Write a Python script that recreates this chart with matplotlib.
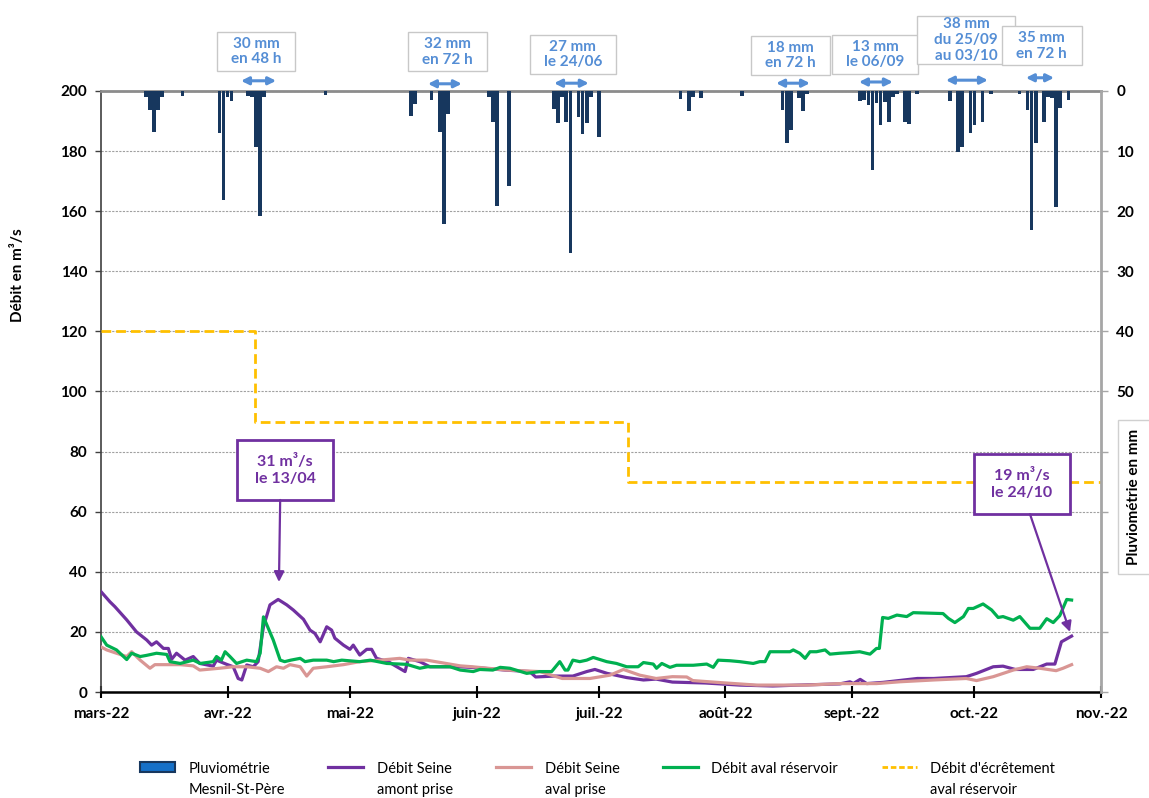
import numpy as np
import pandas as pd
import matplotlib
matplotlib.use("Agg")
import matplotlib.pyplot as plt
import matplotlib.transforms as mtransforms
from matplotlib.patches import Patch, Rectangle
from matplotlib.lines import Line2D

plt.rcParams['font.family'] = ['Lato', 'DejaVu Sans']

# Season starts 1 March 2022, x values are days since that date
start = pd.Timestamp('2022-03-01')
month_starts = pd.date_range('2022-03-01', '2022-11-01', freq='MS')
month_days = list((month_starts - start).days)
month_labels = ['mars-22', 'avr.-22', 'mai-22', 'juin-22', 'juil.-22',
                'août-22', 'sept.-22', 'oct.-22', 'nov.-22']

# Daily rainfall at Mesnil-St-Père (mm)
rain_days = [11, 12, 13, 14, 15, 20, 29, 30, 31, 32, 36, 37, 38, 39, 40, 55,
             76, 77, 81, 83, 84, 85, 95, 96, 97, 100, 111, 112, 113, 114, 115,
             117, 118, 119, 120, 122, 142, 144, 145, 147, 157, 167, 168, 169,
             171, 172, 173, 186, 187, 188, 189, 190, 191, 192, 193, 194, 195,
             197, 198, 200, 208, 210, 211, 213, 214, 216, 218, 225, 227, 228,
             229, 231, 232, 233, 234, 235, 237]
rain_mm = [1.0, 3.2, 6.8, 3.2, 1.0, 0.8, 7.0, 18.1, 1.0, 1.6, 0.8, 1.0, 9.3,
           20.8, 1.0, 0.7, 4.1, 2.2, 1.5, 6.8, 22.1, 3.9, 1.0, 5.2, 19.2, 15.8,
           3.0, 5.3, 1.0, 5.2, 26.9, 4.4, 7.2, 5.4, 1.0, 7.7, 1.3, 3.4, 1.0,
           1.1, 0.9, 3.2, 8.7, 6.5, 1.1, 3.4, 0.5, 1.7, 1.5, 2.4, 13.1, 2.0,
           5.7, 1.8, 5.1, 1.0, 0.5, 5.2, 5.5, 0.5, 1.7, 10.1, 9.3, 7.0, 5.7,
           5.2, 0.5, 0.5, 3.2, 23.1, 8.7, 5.2, 1.0, 1.1, 19.3, 2.9, 1.5]

# Débit Seine amont prise (m3/s)
amont_days = [0, 2.2, 3.4, 6.3, 8.7, 11.2, 12.4, 13.6, 15.3, 16.5, 17.3, 18.5,
              20.6, 22.6, 24.2, 27.5, 28.3, 30.8, 32.4, 33.6, 34.5, 35.7, 37.3,
              38.5, 39.8, 41.4, 43.4, 45.5, 47.1, 49.6, 51.2, 52.4, 53.7, 55.3,
              56.5, 57.3, 59.4, 61, 61.8, 63.4, 65.1, 66.3, 67.5, 70.4, 71.6,
              74.5, 75.3, 78.1, 80.6, 88, 93, 99, 105, 106.5, 111, 115.6, 119,
              121, 124, 128.8, 132.9, 136, 140, 148, 156.5, 164.6, 171, 181,
              183.5, 184.3, 186, 187.6, 191.6, 200, 204, 212, 214.5, 218.6,
              221, 224, 228.4, 231.7, 233.7, 235.3, 237.8]
amont_q = [33.4, 30.0, 28.4, 24.0, 20.0, 17.3, 15.6, 16.7, 14.5, 14.5, 10.9,
           12.9, 10.6, 11.8, 9.5, 8.6, 10.6, 9.2, 8.4, 4.5, 4.0, 9.0, 8.4, 10.1,
           21.7, 29.0, 30.8, 29.0, 27.3, 24.2, 20.6, 19.5, 16.7, 21.7, 20.6,
           17.9, 15.6, 14.2, 15.6, 12.3, 14.2, 14.2, 11.2, 10.1, 9.1, 6.8, 11.2,
           10.1, 8.4, 8.4, 8.0, 7.3, 6.8, 5.0, 5.3, 5.3, 6.8, 7.5, 6.2, 4.8,
           4.0, 4.3, 3.3, 3.0, 2.3, 2.0, 2.3, 2.7, 3.4, 2.8, 4.2, 2.8, 3.2, 4.5,
           4.5, 5.1, 6.2, 8.4, 8.6, 7.5, 7.5, 9.3, 9.3, 16.7, 18.6]

# Débit Seine aval prise (m3/s)
aval_days = [0, 1.4, 3.8, 6.3, 7.5, 9.6, 12, 13.2, 16, 19.4, 22.6, 24.2, 29,
             32.4, 35.7, 39, 41, 43, 44.7, 46.3, 48.8, 50.4, 52, 55.3, 59.4,
             63.4, 68.3, 73.2, 75.7, 79.8, 88, 91, 99.4, 107.5, 113, 119.8,
             124.7, 128, 132, 136, 140, 143.5, 145, 152, 160.6, 173, 181, 190,
             195.7, 204, 212, 214.5, 218.6, 223.5, 226.8, 230, 234, 235.7, 237.8]
aval_q = [15.0, 14.0, 12.9, 11.8, 13.4, 10.6, 7.9, 9.1, 9.1, 9.1, 8.7, 7.3,
          7.9, 8.4, 8.4, 7.9, 6.8, 8.4, 7.9, 9.1, 8.4, 5.3, 7.9, 8.4, 9.1,
          10.1, 10.6, 11.2, 10.6, 10.6, 8.7, 8.4, 7.3, 6.8, 4.5, 4.5, 5.6, 7.5,
          5.6, 4.5, 5.1, 5.0, 3.8, 3.1, 2.3, 2.3, 2.8, 2.8, 3.4, 4.0, 4.5, 3.8,
          5.1, 7.3, 8.4, 7.9, 7.1, 7.9, 9.1]

# Débit aval réservoir (m3/s)
reservoir_days = [0, 1.4, 3.8, 6.3, 7.5, 9.6, 11.2, 13.6, 16.1, 16.9, 19.4,
                  22.6, 24.3, 27.5, 28.3, 29.5, 30.4, 31.6, 33.2, 35.7, 38.1,
                  39, 39.8, 42.2, 43.9, 45, 46.5, 48.8, 50, 52, 55.3, 57, 59,
                  63.4, 66, 70, 74.9, 78.1, 80, 83, 85.5, 88, 91.2, 92.8, 96,
                  97.8, 100.2, 104.3, 107.5, 110.4, 112.4, 113.7, 114.4, 115.6,
                  117.3, 119, 120.6, 123.9, 126.3, 128.8, 131.6, 132.9, 135.3,
                  136.1, 137.4, 139.4, 141, 145.1, 148.4, 150, 151.2, 154.1,
                  156.5, 159.8, 161.4, 162.7, 163.9, 168.8, 169.6, 171.2, 172.5,
                  173.7, 175.3, 177.4, 178.6, 181, 183.5, 185.9, 188.4, 190,
                  190.7, 191.5, 192.9, 195, 197.4, 199, 206.3, 207.6, 209.2,
                  211.3, 212.5, 213.7, 216.1, 218.2, 219.8, 221, 223.5, 225.1,
                  227.6, 230, 231.7, 233.3, 234.9, 236.6, 237.8]
reservoir_q = [18.4, 15.6, 14.0, 10.8, 12.9, 11.8, 12.2, 12.9, 12.5, 10.1, 9.5,
               10.6, 9.5, 10.1, 11.8, 10.6, 13.4, 11.8, 9.5, 10.6, 10.1, 12.9,
               25.0, 17.3, 10.6, 10.1, 10.6, 11.2, 10.1, 10.6, 10.6, 10.1, 10.6,
               10.1, 10.6, 9.5, 9.2, 7.9, 8.4, 8.4, 8.4, 7.3, 6.8, 7.5, 7.3, 8.2,
               7.9, 6.2, 6.8, 6.8, 10.1, 7.3, 7.3, 10.6, 10.1, 10.6, 11.5, 10.1,
               9.5, 8.4, 8.4, 9.8, 9.3, 7.9, 9.5, 8.2, 8.9, 8.9, 9.3, 8.2, 10.6,
               10.4, 10.1, 9.5, 10.1, 10.1, 13.4, 13.4, 14.0, 12.9, 11.2, 13.4,
               13.4, 14.0, 12.6, 12.9, 13.1, 13.4, 12.6, 14.5, 14.5, 24.8, 24.5,
               25.6, 25.1, 26.4, 26.1, 24.5, 23.1, 25.1, 27.8, 27.8, 29.3, 27.3,
               24.8, 25.1, 23.9, 25.1, 21.2, 21.2, 24.4, 23.1, 25.4, 30.8, 30.6]

# Débit d'écrêtement aval réservoir (m3/s), steps
ecret_days = [0, 37.7, 129.1, 245]
ecret_q = [120, 90, 70, 70]

# rainfall event notes above the chart
rain_notes = ['30 mm\nen 48 h', '32 mm\nen 72 h', '27 mm\nle 24/06',
              '18 mm\nen 72 h', '13 mm\nle 06/09', '38 mm\ndu 25/09\nau 03/10',
              '35 mm\nen 72 h']
note_x = [38.0, 84.8, 115.6, 169.0, 189.6, 211.9, 230.5]
note_y = [1.066, 1.065, 1.061, 1.059, 1.061, 1.085, 1.075]
note_w = [19.1, 19.4, 21.1, 19.4, 21.1, 24.0, 19.6]
note_h = [0.065, 0.065, 0.065, 0.065, 0.065, 0.08, 0.065]
span_x0 = [34.3, 80.1, 111.0, 165.4, 185.7, 207.0, 226.6]
span_x1 = [42.9, 88.4, 119.5, 173.7, 194.0, 217.3, 233.5]
span_y = [1.017, 1.012, 1.013, 1.013, 1.015, 1.018, 1.022]

purple = '#7030A0'
pink = '#D99694'
green = '#00B050'
gold = '#FFC000'
navy = '#17375E'
note_blue = '#558ED5'

fig = plt.figure(figsize=(11.49, 7.98), dpi=100)
ax = fig.add_axes([101 / 1149, 1 - 692 / 798, 1000 / 1149, 601 / 798])
ax2 = ax.twinx()

# flows
ax.plot(amont_days, amont_q, color=purple, lw=2.3, zorder=3)
ax.plot(aval_days, aval_q, color=pink, lw=2.3, zorder=4)
ax.plot(reservoir_days, reservoir_q, color=green, lw=2.3, zorder=5)
ax.plot(ecret_days, ecret_q, color=gold, lw=2.0, ls=(0, (3.5, 1.8)),
        drawstyle='steps-post', zorder=5)

ax.set_xlim(0, 245)
ax.set_ylim(0, 200)
ax.set_yticks(range(0, 201, 20))
ax.set_xticks(month_days)
ax.set_xticklabels(month_labels)
ax.grid(axis='y', color='#A0A0A0', ls=(0, (2, 1.2)), lw=0.8)
ax.set_axisbelow(True)
ax.tick_params(axis='x', direction='inout', length=9, width=1.5, pad=6,
               labelsize=11)
ax.tick_params(axis='y', direction='out', length=4, width=1, pad=6,
               labelsize=11, color='#404040')
plt.setp(ax.get_xticklabels() + ax.get_yticklabels(), fontweight='bold')
ax.spines['bottom'].set_linewidth(1.8)
ax.spines['left'].set_color('#404040')
ax.spines['left'].set_linewidth(1.2)
ax.spines['top'].set_color('#8C8C8C')
ax.spines['top'].set_linewidth(2)
ax.spines['right'].set_visible(False)

# rainfall, hanging from the top
ax2.bar(rain_days, rain_mm, width=0.9, color=navy, zorder=3)
ax2.set_ylim(100, 0)
ax2.set_yticks(range(0, 101, 10))
ax2.set_yticklabels([str(v) if v <= 50 else '' for v in range(0, 101, 10)])
ax2.tick_params(axis='y', direction='out', length=5, width=1, pad=6,
                labelsize=11, color='#A6A6A6')
plt.setp(ax2.get_yticklabels(), fontweight='bold')
for side in ['left', 'top', 'bottom']:
    ax2.spines[side].set_visible(False)
ax2.spines['right'].set_color('#A6A6A6')
ax2.spines['right'].set_linewidth(2)

# rainfall notes above the plot
trans = mtransforms.blended_transform_factory(ax.transData, ax.transAxes)
for i, txt in enumerate(rain_notes):
    ax.add_patch(Rectangle((note_x[i] - note_w[i] / 2, note_y[i] - note_h[i] / 2),
                           note_w[i], note_h[i], transform=trans, fc='white',
                           ec='#C8C8C8', lw=1, clip_on=False, zorder=10 + 2 * i))
    ax.text(note_x[i], note_y[i], txt, transform=trans, ha='center',
            va='center', color=note_blue, fontsize=11, fontweight='bold',
            linespacing=1.15, zorder=11 + 2 * i, clip_on=False)
    ax.annotate('', xy=(span_x1[i], span_y[i]), xytext=(span_x0[i], span_y[i]),
                xycoords=trans, textcoords=trans, annotation_clip=False,
                arrowprops=dict(arrowstyle='<|-|>', color=note_blue, lw=2.2,
                                mutation_scale=11, shrinkA=0, shrinkB=0))

# peak flow call-outs
for x0, x1, y0, y1, txt, tip, tail in [
        (33.3, 56.9, 63.9, 83.9, '31 m³/s\nle 13/04', (43.6, 36.6), (43.9, 63.9)),
        (213.9, 237.4, 59.2, 79.2, '19 m³/s\nle 24/10', (237.4, 20.0), (227.6, 59.2))]:
    ax.add_patch(Rectangle((x0, y0), x1 - x0, y1 - y0, fc='white', ec=purple,
                           lw=2, zorder=8))
    ax.text((x0 + x1) / 2, (y0 + y1) / 2, txt, ha='center', va='center',
            color=purple, fontsize=11.5, fontweight='bold', zorder=9,
            linespacing=1.3)
    ax.annotate('', xy=tip, xytext=tail,
                arrowprops=dict(arrowstyle='-|>', color=purple, lw=1.6,
                                mutation_scale=15, shrinkA=0, shrinkB=0),
                zorder=9)

fig.text(18 / 1149, 1 - 275 / 798, 'Débit en m³/s', rotation=90, ha='center',
         va='center', fontsize=11, fontweight='bold')
fig.text(1134 / 1149, 1 - 497 / 798, 'Pluviométrie en mm', rotation=90,
         ha='center', va='center', fontsize=11, fontweight='bold',
         bbox=dict(boxstyle='square,pad=0.6', fc='white', ec='#D0D0D0', lw=1))

handles = [Patch(fc='#1570C8', ec=navy, lw=1.5),
           Line2D([], [], color=purple, lw=2.3),
           Line2D([], [], color=pink, lw=2.3),
           Line2D([], [], color=green, lw=2.3),
           Line2D([], [], color=gold, lw=2.0, ls=(0, (2, 1)))]
labels = ['Pluviométrie\nMesnil-St-Père', 'Débit Seine\namont prise',
          'Débit Seine\naval prise', 'Débit aval réservoir',
          "Débit d'écrêtement\naval réservoir"]
leg = fig.legend(handles, labels, loc='upper center',
                 bbox_to_anchor=(0.52, 1 - 752 / 798), ncol=5, frameon=False,
                 fontsize=10.5, handlelength=2.4, handletextpad=0.9,
                 columnspacing=3.0, labelspacing=0.2, borderpad=0.2)
for t in leg.get_texts():
    t.set_multialignment('left')
    t.set_linespacing(1.6)
# keep each handle level with the first line of its label
leg._legend_handle_box.align = 'top'
for col in leg._legend_handle_box.get_children():
    col.align = 'top'
    for row in col.get_children():
        row.align = 'top'

fig.savefig('out.png', dpi=100)
